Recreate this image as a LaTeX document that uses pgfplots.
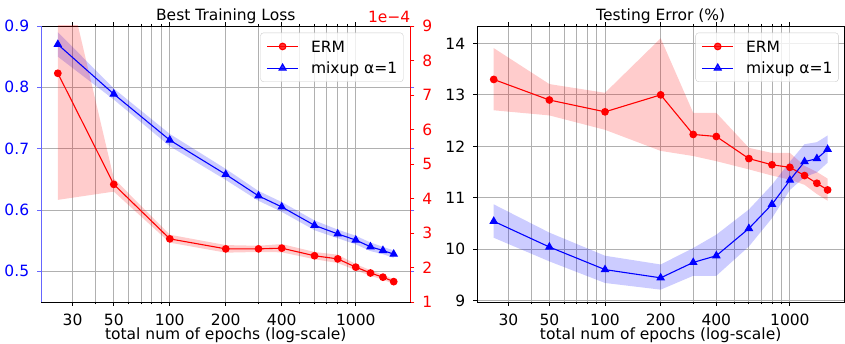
\documentclass[border=0pt]{standalone}
\usepackage{pgfplots}
\pgfplotsset{compat=1.18}
\usepgfplotslibrary{fillbetween}
\usepackage{pgfplotstable}
\usepackage{fontspec}
\setmainfont{DejaVu Sans}
\definecolor{gridgray}{HTML}{B0B0B0}
\definecolor{spineblue}{HTML}{6666FF}
\definecolor{legframe}{HTML}{CCCCCC}

\pgfplotstableread{
x m u l
25 0.870 0.890 0.850
50 0.789 0.798 0.780
100 0.714 0.724 0.704
200 0.658 0.667 0.649
300 0.623 0.631 0.615
400 0.605 0.613 0.597
600 0.575 0.583 0.567
800 0.561 0.568 0.554
1000 0.551 0.558 0.544
1200 0.540 0.547 0.533
1400 0.534 0.540 0.528
1600 0.528 0.534 0.522
}\lossmixup

\pgfplotstableread{
x m u l
25 7.63 11.5 3.96
50 4.41 4.58 4.20
100 2.83 2.95 2.72
200 2.54 2.65 2.43
300 2.54 2.63 2.45
400 2.56 2.68 2.44
600 2.34 2.45 2.24
800 2.25 2.37 2.13
1000 2.01 2.10 1.92
1200 1.84 1.92 1.76
1400 1.72 1.79 1.65
1600 1.59 1.66 1.52
}\losserm

\pgfplotstableread{
x m u l
25 13.30 13.91 12.70
50 12.90 13.21 12.60
100 12.67 13.04 12.32
200 13.00 14.10 11.91
300 12.23 12.65 11.81
400 12.19 12.65 11.71
600 11.76 11.97 11.55
800 11.64 11.87 11.43
1000 11.59 11.87 11.35
1200 11.43 11.62 11.25
1400 11.28 11.50 11.07
1600 11.15 11.37 10.94
}\testerm

\pgfplotstableread{
x m u l
25 10.54 10.87 10.22
50 10.04 10.32 9.76
100 9.60 9.87 9.34
200 9.44 9.70 9.21
300 9.74 10.02 9.48
400 9.87 10.28 9.48
600 10.40 10.77 10.05
800 10.87 11.25 10.60
1000 11.34 11.70 11.15
1200 11.70 12.04 11.40
1400 11.76 12.08 11.49
1600 11.94 12.21 11.68
}\testmixup

\newcommand{\fs}{\fontsize{15.5}{18}\selectfont}

\pgfplotsset{
  common/.style={
    scale only axis, height=276pt,
    xmin=20.3, xmax=1970,
    tick align=outside,
    major tick length=3.9pt, minor tick length=2.2pt,
    /pgf/number format/assume math mode=true,
    tick label style={font=\fs, inner sep=0pt},
    every axis title/.style={at={(0.5,1)}, anchor=base, yshift=5.3pt, inner sep=0pt, font=\fs},
    every axis x label/.style={at={(0.5,0)}, anchor=base, yshift=-38pt, inner sep=0pt, font=\fs},
  },
  xgrid/.style={
    xtick={30,50,100,200,400,1000}, xticklabels={30,50,100,200,400,1000},
    minor xtick={40,60,70,80,90,200,300,500,600,700,800,900},
    xmajorgrids, xminorgrids, ymajorgrids,
    major grid style={gridgray, line width=0.9pt},
    minor grid style={gridgray, line width=0.9pt},
    xtick style={black, line width=0.9pt},
    xticklabel style={anchor=base, yshift=-19.7pt},
    xlabel={total num of epochs (log-scale)},
  },
  leg/.style={
    legend style={draw=legframe, fill=white, fill opacity=0.8, text opacity=1,
      rounded corners=3pt, inner xsep=6pt, inner ysep=8pt, font=\fs,
      row sep=10.3pt,
      nodes={inner sep=0pt, text height=11.3pt, text depth=0pt},
      /tikz/every odd column/.append style={column sep=12.4pt}},
    legend cell align=left,
    legend image code/.code={\draw[mark repeat=2, mark phase=2, ##1] plot coordinates {(0pt,0pt) (15.5pt,0pt) (31pt,0pt)};},
  },
  ermline/.style={red, line width=1.1pt, mark=*, mark size=3.3pt, mark options={solid}},
  mixline/.style={blue, line width=1.1pt, mark=triangle*, mark size=4pt, mark options={solid}},
}

\begin{document}
\begin{tikzpicture}

% ---------- left panel: main axis (mixup) ----------
\begin{axis}[xmode=log, common, xgrid,
  at={(41pt,42pt)}, anchor=south west, width=369.5pt,
  ymin=0.45, ymax=0.9,
  ytick={0.5,0.6,0.7,0.8,0.9}, yticklabels={0.5,0.6,0.7,0.8,0.9},
  yticklabel style={blue, anchor=east, xshift=-7.8pt},
  ytick style={spineblue, line width=0.9pt},
  separate axis lines,
  x axis line style={black, line width=0.9pt},
  y axis line style={spineblue, line width=0.9pt},
  title={Best Training Loss},
]
\addplot[name path=mu, draw=none, forget plot] table[x=x,y=u]{\lossmixup};
\addplot[name path=ml, draw=none, forget plot] table[x=x,y=l]{\lossmixup};
\addplot[blue, fill opacity=0.2, draw=none, forget plot] fill between[of=mu and ml];
\addplot[mixline] table[x=x,y=m]{\lossmixup};
\end{axis}

% ---------- left panel: twin axis (ERM) ----------
\begin{axis}[xmode=log, common, leg,
  at={(41pt,42pt)}, anchor=south west, width=369.5pt,
  axis x line=none, axis y line*=right,
  ymin=1, ymax=9, ytick={1,2,3,4,5,6,7,8,9},
  yticklabels={1,2,3,4,5,6,7,8,9},
  yticklabel style={red, anchor=west, xshift=7.8pt},
  ytick style={red, line width=0.9pt},
  y axis line style={red, line width=0.9pt},
  legend style={at={(0.981,0.976)}, anchor=north east},
]
\addplot[name path=eu, draw=none, forget plot] table[x=x,y=u]{\losserm};
\addplot[name path=el, draw=none, forget plot] table[x=x,y=l]{\losserm};
\addplot[red, fill opacity=0.2, draw=none, forget plot] fill between[of=eu and el];
\addplot[ermline] table[x=x,y=m]{\losserm};
\addlegendentry{ERM}
\addlegendimage{mixline}
\addlegendentry{mixup α=1}
\end{axis}
\node[red, anchor=base east, inner sep=0pt, font=\fs] at (410.5pt,321.3pt) {1e−4};

% ---------- right panel ----------
\begin{axis}[xmode=log, common, xgrid, leg,
  at={(477pt,42pt)}, anchor=south west, width=367.3pt,
  ymin=8.97, ymax=14.34,
  ytick={9,10,11,12,13,14}, yticklabels={9,10,11,12,13,14},
  yticklabel style={black, anchor=east, xshift=-7.8pt},
  ytick style={black, line width=0.9pt},
  axis line style={black, line width=0.9pt},
  title={Testing Error (\%)},
  legend style={at={(0.9845,0.976)}, anchor=north east},
]
\addplot[name path=tu, draw=none, forget plot] table[x=x,y=u]{\testerm};
\addplot[name path=tl, draw=none, forget plot] table[x=x,y=l]{\testerm};
\addplot[red, fill opacity=0.2, draw=none, forget plot] fill between[of=tu and tl];
\addplot[ermline] table[x=x,y=m]{\testerm};
\addlegendentry{ERM}
\addplot[name path=su, draw=none, forget plot] table[x=x,y=u]{\testmixup};
\addplot[name path=sl, draw=none, forget plot] table[x=x,y=l]{\testmixup};
\addplot[blue, fill opacity=0.2, draw=none, forget plot] fill between[of=su and sl];
\addplot[mixline] table[x=x,y=m]{\testmixup};
\addlegendentry{mixup α=1}
\end{axis}
\pgfresetboundingbox
\path (0pt,0pt) rectangle (845pt,344pt);
\end{tikzpicture}
\end{document}
